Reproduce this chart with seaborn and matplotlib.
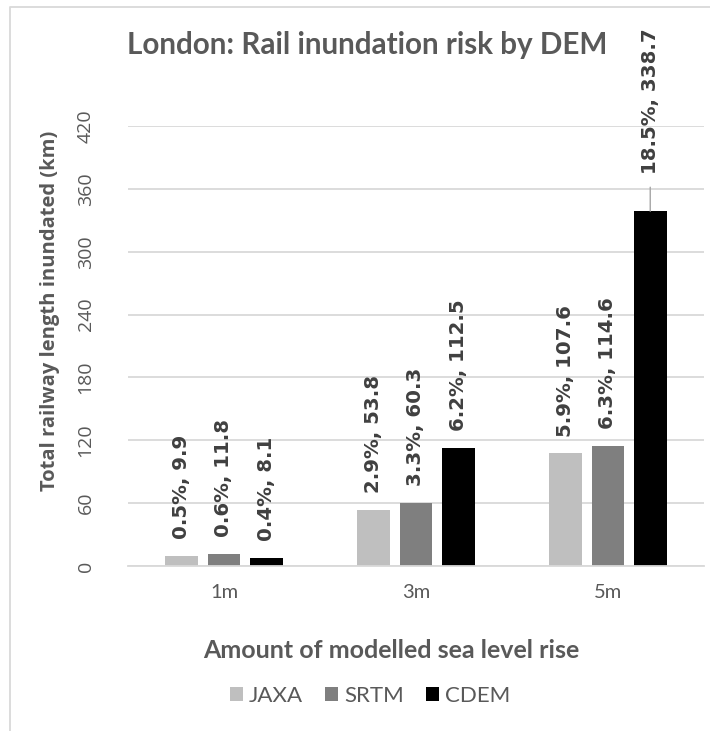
import matplotlib
matplotlib.use("Agg")
import matplotlib.pyplot as plt
from matplotlib.lines import Line2D
import pandas as pd
import seaborn as sns

# Data: length of railway inundated (km) and share of the network (%)
levels = ["1m", "3m", "5m"]
dems = ["JAXA", "SRTM", "CDEM"]
jaxa_km = [9.9, 53.8, 107.6]
srtm_km = [11.8, 60.3, 114.6]
cdem_km = [8.1, 112.5, 338.7]
jaxa_pct = [0.5, 2.9, 5.9]
srtm_pct = [0.6, 3.3, 6.3]
cdem_pct = [0.4, 6.2, 18.5]
y_ticks = [0, 60, 120, 180, 240, 300, 360, 420]

palette = {"JAXA": "#BFBFBF", "SRTM": "#7F7F7F", "CDEM": "#000000"}
TEXT = "#595959"
GRID = "#D9D9D9"

rows = []
for dem, kms, pcts in zip(dems, [jaxa_km, srtm_km, cdem_km], [jaxa_pct, srtm_pct, cdem_pct]):
    for lvl, km, pct in zip(levels, kms, pcts):
        rows.append({"level": lvl, "dem": dem, "km": km, "pct": pct})
df = pd.DataFrame(rows)

sns.set_theme(style="white")
plt.rcParams["font.family"] = ["DejaVu Sans"]
NARROW = ["Lato", "DejaVu Sans"]
SANS = ["Open Sans", "DejaVu Sans"]

W, H = 710, 731
fig = plt.figure(figsize=(W / 100, H / 100), dpi=100)
ax = fig.add_axes([128 / W, 1 - 566 / H, 576 / W, 440 / H])

sns.barplot(data=df, x="level", y="km", hue="dem", order=levels,
            hue_order=dems, palette=palette, width=0.66, gap=0.22,
            saturation=1, linewidth=0, ax=ax)

# value labels above each bar
label_style = dict(textcoords="offset points", rotation=90, ha="center",
                   va="bottom", fontsize=14.2, fontweight="bold",
                   color="#404040", family="DejaVu Sans",
                   annotation_clip=False)
for dem, container in zip(dems, ax.containers):
    sub = df[df.dem == dem].set_index("level").loc[levels]
    for bar, (km, pct) in zip(container, zip(sub.km, sub.pct)):
        x = bar.get_x() + bar.get_width() / 2
        label = f"{pct:.1f}%, {km:.1f}"
        if km > 300:
            # tall bar: label pushed up with a leader line
            ax.annotate(label, xy=(x, km), xytext=(0, 26.6),
                        arrowprops=dict(arrowstyle="-", color="#A6A6A6",
                                        lw=1.0, shrinkA=7, shrinkB=0),
                        **label_style)
        else:
            ax.annotate(label, xy=(x, km), xytext=(0, 12), **label_style)

ax.set_ylim(0, 420)
ax.set_yticks(y_ticks)
ax.set_yticklabels([str(t) for t in y_ticks])
ax.yaxis.grid(True, color=GRID, lw=1.3)
ax.set_axisbelow(True)
for side in ["top", "right", "left"]:
    ax.spines[side].set_visible(False)
ax.spines["bottom"].set_color(GRID)
ax.spines["bottom"].set_linewidth(1.3)

ax.tick_params(axis="y", length=0, pad=24, labelsize=14, labelcolor=TEXT,
               labelrotation=90)
for lab in ax.get_yticklabels():
    lab.set_va("center")
    lab.set_family(SANS)
ax.tick_params(axis="x", length=0, pad=13, labelsize=14.5, labelcolor=TEXT)
for lab in ax.get_xticklabels():
    lab.set_family(NARROW)

ax.set_xlabel("")
ax.set_ylabel("")

fig.text(50 / W, 1 - 311 / H, "Total railway length inundated (km)",
         rotation=90, ha="center", va="center", fontsize=14.5,
         fontweight="bold", color=TEXT, family=SANS)
fig.text(391 / W, 1 - 650 / H, "Amount of modelled sea level rise",
         ha="center", va="center", fontsize=18, fontweight="bold",
         color=TEXT, family=NARROW)
fig.text(367 / W, 1 - 45 / H, "London: Rail inundation risk by DEM",
         ha="center", va="center", fontsize=21.3, fontweight="bold",
         color=TEXT, family=NARROW)

handles, labels = ax.get_legend_handles_labels()
ax.get_legend().remove()
fig.legend(handles, labels, loc="center", bbox_to_anchor=(370 / W, 1 - 696 / H),
           ncol=3, frameon=False, handlelength=0.6, handleheight=0.6,
           handletextpad=0.25, columnspacing=1.0,
           prop={"family": NARROW, "size": 16}, labelcolor=TEXT)

# chart frame (left and top edges)
fig.add_artist(Line2D([10 / W, 10 / W, 1], [0, 1 - 7 / H, 1 - 7 / H],
                      color=GRID, lw=1.3, transform=fig.transFigure))

fig.savefig("out.png", dpi=100, facecolor="white")
